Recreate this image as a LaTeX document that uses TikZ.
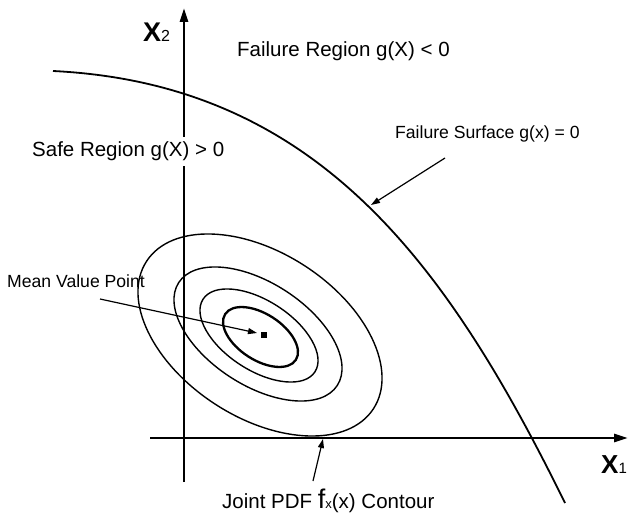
\documentclass[tikz,border=0pt]{standalone}
\usepackage{fontspec}
\setmainfont{Liberation Sans}
\usetikzlibrary{arrows.meta}
\begin{document}
\begin{tikzpicture}[x=1pt,y=-1pt,
  lbl/.style={inner sep=0pt, anchor=base west, font=\fontsize{20.5}{24}\selectfont},
  smalllbl/.style={inner sep=0pt, anchor=base west, font=\fontsize{17.6}{21}\selectfont},
  axislbl/.style={inner sep=0pt, anchor=base west},
  axis/.style={line width=2.6pt, -{Triangle[length=14pt,width=8pt]}},
  pointer/.style={line width=1.2pt, -{Triangle[length=9pt,width=6pt]}},
  contour/.style={line width=1.4pt},
  surface/.style={line width=1.8pt},
]
\useasboundingbox (0,0) rectangle (629,518);
% axes
\coordinate (ybot) at (184,482);
\coordinate (ytop) at (184,8);
\coordinate (xleft) at (150,438);
\coordinate (xright) at (628,438);
\draw[axis] (ybot) -- (ytop);
\draw[axis] (xleft) -- (xright);
% failure surface
\coordinate (fs0) at (53,71);
\coordinate (fs1) at (565,503);
\draw[surface] (fs0) .. controls (318,84) and (448,265) .. (fs1);
% contours
\coordinate (c1) at (260.5,337);
\coordinate (c2) at (259,335.5);
\coordinate (c3) at (258,334);
\coordinate (c4) at (260,335);
\draw[line width=2.3pt, rotate around={-33:(c1)}] (c1) ellipse [x radius=42.1, y radius=23.0];
\draw[contour, rotate around={-33:(c2)}] (c2) ellipse [x radius=66.7, y radius=34.7];
\draw[contour, rotate around={-33:(c3)}] (c3) ellipse [x radius=94.5, y radius=51.2];
\draw[contour, rotate around={-33:(c4)}] (c4) ellipse [x radius=135.3, y radius=82.4];
% mean point
\node[fill=black, minimum size=6pt, inner sep=0pt] (mean) at (264,335) {};
% labels
\node[axislbl] (x2lab) at (143,42) {\fontsize{27}{27}\selectfont\bfseries X\fontsize{16}{16}\selectfont\mdseries 2};
\node[axislbl] (x1lab) at (601,473) {\fontsize{26}{26}\selectfont\bfseries X\fontsize{15}{15}\selectfont\mdseries 1};
\node[lbl] (fr) at (237,57) {Failure Region g(X) < 0};
\node[lbl, fill=white, inner ysep=5pt, inner xsep=0pt] (sr) at (32,157) {Safe Region g(X) > 0};
\node[smalllbl] (fs) at (395,139) {Failure Surface g(x) = 0};
\node[smalllbl] (mv) at (7,288) {Mean Value Point};
\node[lbl] (jp) at (222,508) {Joint PDF {\fontsize{27}{27}\selectfont f}{\fontsize{13}{13}\selectfont x}(x) Contour};
% pointers
\coordinate (fsa) at (445,158);
\coordinate (fsb) at (371,205);
\draw[pointer] (fsa) -- (fsb);
\coordinate (mva) at (100,299);
\coordinate (mvb) at (257,333);
\draw[pointer] (mva) -- (mvb);
\coordinate (jpa) at (313,481);
\coordinate (jpb) at (323,439);
\draw[pointer] (jpa) -- (jpb);
\end{tikzpicture}
\end{document}
